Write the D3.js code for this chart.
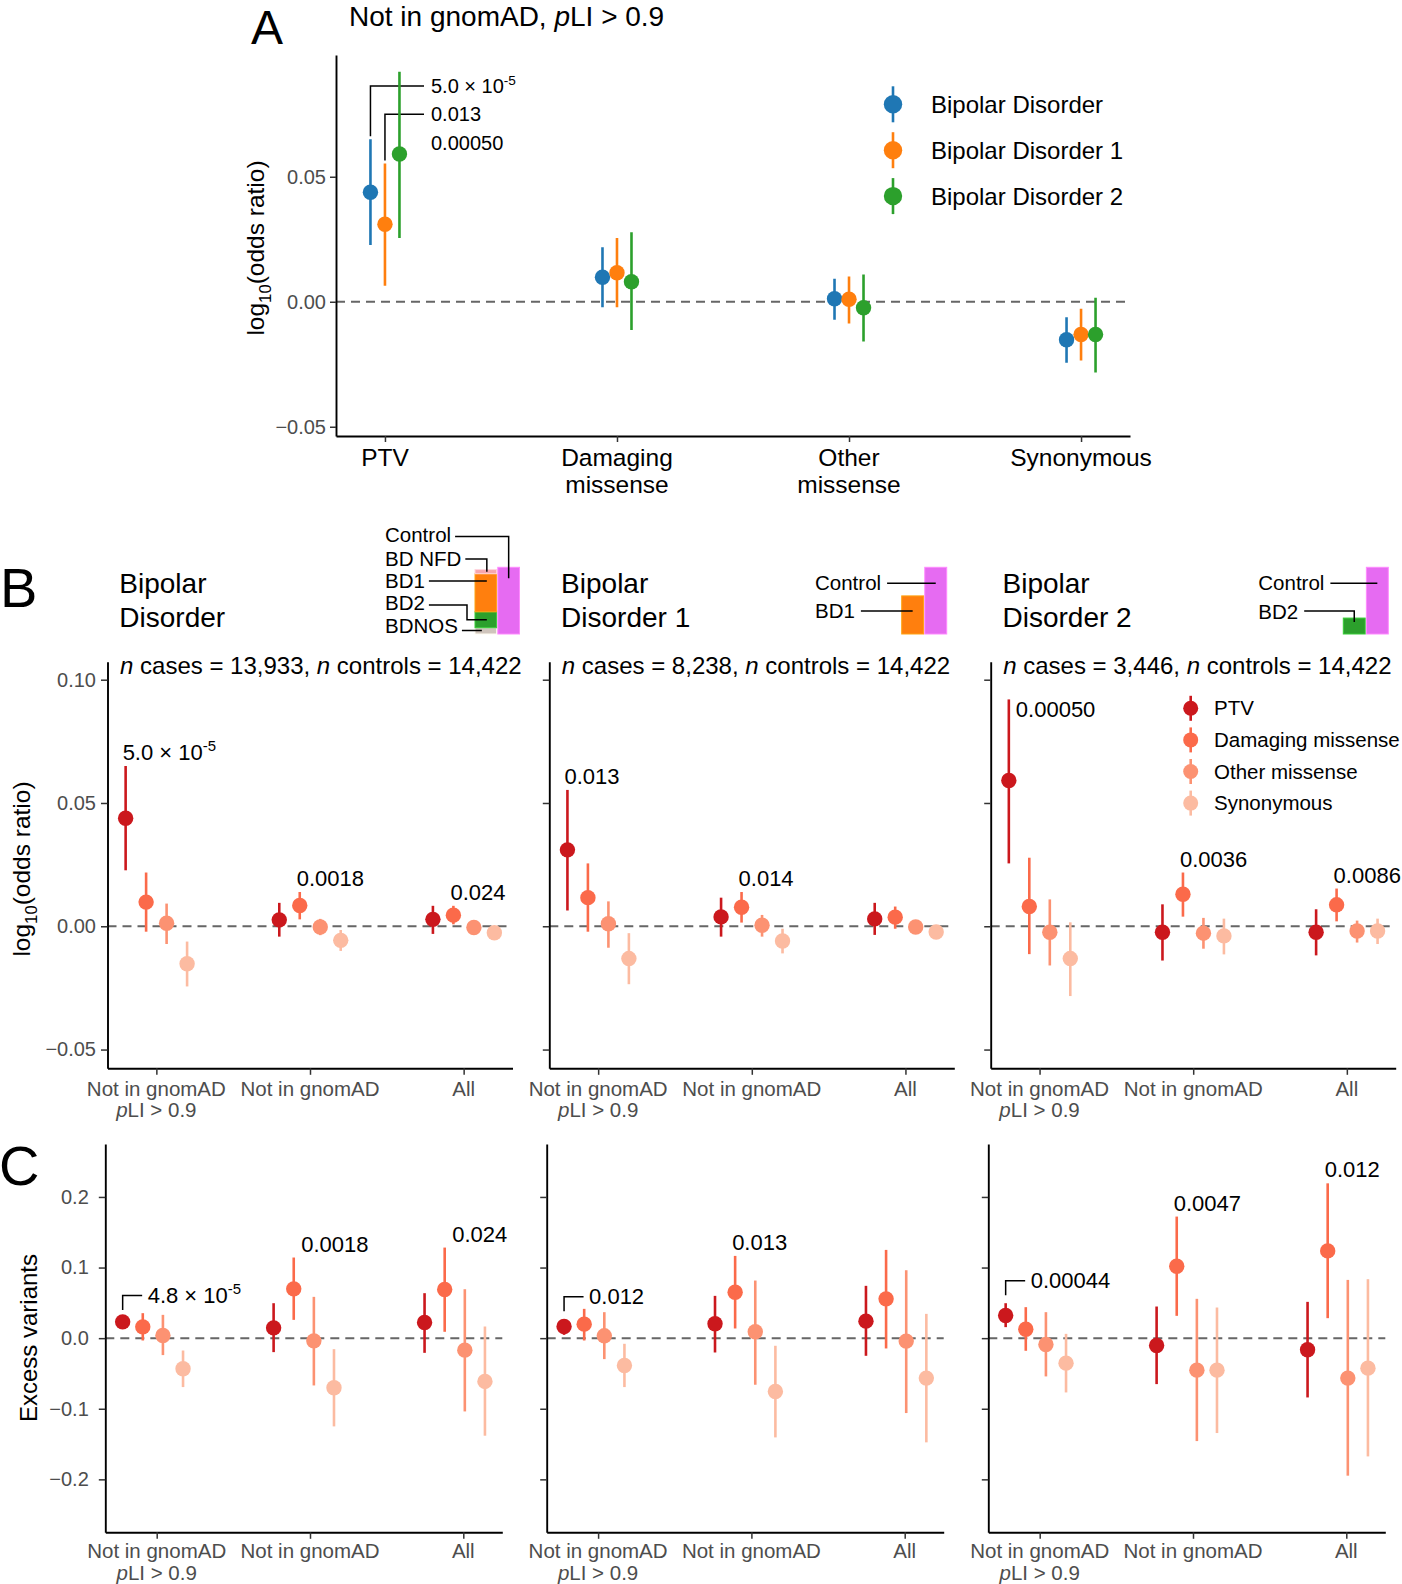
<!DOCTYPE html>
<html><head><meta charset="utf-8">
<script src="https://cdn.jsdelivr.net/npm/d3@7"></script>
<style>
body{margin:0;background:#fff}
svg{display:block}
text{font-family:"Liberation Sans",Arial,Helvetica,sans-serif}
</style></head>
<body><svg id="chart" width="1402" height="1584"></svg>
<script>
// ================= DATA =================
// Panel A: Not in gnomAD, pLI > 0.9
const categoriesA = ["PTV", "Damaging missense", "Other missense", "Synonymous"];
const categoryLinesA = [["PTV"], ["Damaging", "missense"], ["Other", "missense"], ["Synonymous"]];
const phenotypes = ["Bipolar Disorder", "Bipolar Disorder 1", "Bipolar Disorder 2"];
const estA_BD  = [0.0438, 0.0098, 0.0012, -0.0152];
const loA_BD   = [0.0227, -0.0022, -0.0072, -0.0244];
const hiA_BD   = [0.0650, 0.0218, 0.0092, -0.0062];
const estA_BD1 = [0.0310, 0.0116, 0.0010, -0.0131];
const loA_BD1  = [0.0064, -0.0022, -0.0087, -0.0235];
const hiA_BD1  = [0.0553, 0.0255, 0.0101, -0.0028];
const estA_BD2 = [0.0591, 0.0080, -0.0024, -0.0131];
const loA_BD2  = [0.0255, -0.0113, -0.0159, -0.0283];
const hiA_BD2  = [0.0920, 0.0278, 0.0109, 0.0016];
const pLabelsA = ["5.0 × 10^{-5}", "0.013", "0.00050"];
const yTicksA = [-0.05, 0, 0.05];

// Panels B and C
const variantClasses = ["PTV", "Damaging missense", "Other missense", "Synonymous"];
const geneSets = ["Not in gnomAD|*p*LI > 0.9", "Not in gnomAD", "All"];
const panelTitles = [["Bipolar", "Disorder"], ["Bipolar", "Disorder 1"], ["Bipolar", "Disorder 2"]];
const nCases = ["13,933", "8,238", "3,446"];
const nControls = ["14,422", "14,422", "14,422"];
const yTicksB = [-0.05, 0, 0.05, 0.10];
const yTicksC = [-0.2, -0.1, 0, 0.1, 0.2];

// B: log10(odds ratio); 12 values each = 3 gene sets x 4 variant classes
const estB_BD  = [0.0438, 0.0098, 0.0012, -0.0152, 0.0026, 0.0084, -0.0003, -0.0057, 0.0028, 0.0045, -0.0005, -0.0026];
const loB_BD   = [0.0227, -0.0022, -0.0072, -0.0244, -0.0042, 0.0028, -0.0036, -0.0100, -0.0031, 0.0008, -0.0023, -0.0045];
const hiB_BD   = [0.0650, 0.0218, 0.0092, -0.0062, 0.0095, 0.0139, 0.0030, -0.0015, 0.0083, 0.0083, 0.0012, -0.0010];
const estB_BD1 = [0.0310, 0.0116, 0.0010, -0.0131, 0.0038, 0.0077, 0.0004, -0.0060, 0.0030, 0.0037, -0.0003, -0.0023];
const loB_BD1  = [0.0064, -0.0022, -0.0087, -0.0235, -0.0042, 0.0015, -0.0042, -0.0110, -0.0035, -0.0010, -0.0020, -0.0050];
const hiB_BD1  = [0.0553, 0.0255, 0.0101, -0.0028, 0.0116, 0.0139, 0.0046, -0.0010, 0.0095, 0.0080, 0.0015, 0.0001];
const estB_BD2 = [0.0591, 0.0080, -0.0024, -0.0131, -0.0024, 0.0130, -0.0028, -0.0039, -0.0024, 0.0087, -0.0019, -0.0019];
const loB_BD2  = [0.0255, -0.0113, -0.0159, -0.0283, -0.0139, 0.0039, -0.0091, -0.0114, -0.0118, 0.0020, -0.0066, -0.0072];
const hiB_BD2  = [0.0920, 0.0278, 0.0109, 0.0016, 0.0089, 0.0218, 0.0034, 0.0031, 0.0069, 0.0153, 0.0023, 0.0031];
// annotations: [point index, label]
const annB_BD  = [[0, "5.0 × 10^{-5}"], [5, "0.0018"], [9, "0.024"]];
const annB_BD1 = [[0, "0.013"], [5, "0.014"]];
const annB_BD2 = [[0, "0.00050"], [5, "0.0036"], [9, "0.0086"]];

// C: excess variants
const estC_BD  = [0.0231, 0.0160, 0.0038, -0.0434, 0.0146, 0.0698, -0.0038, -0.0703, 0.0222, 0.0689, -0.0170, -0.0613];
const loC_BD   = [0.0175, -0.0033, -0.0240, -0.0693, -0.0198, 0.0259, -0.0670, -0.1250, -0.0208, 0.0090, -0.1038, -0.1382];
const hiC_BD   = [0.0287, 0.0354, 0.0330, -0.0175, 0.0495, 0.1142, 0.0585, -0.0156, 0.0637, 0.1283, 0.0693, 0.0165];
const estC_BD1 = [0.0165, 0.0198, 0.0033, -0.0387, 0.0203, 0.0651, 0.0090, -0.0755, 0.0241, 0.0557, -0.0042, -0.0566];
const loC_BD1  = [0.0047, -0.0033, -0.0297, -0.0693, -0.0203, 0.0137, -0.0660, -0.1406, -0.0250, -0.0146, -0.1061, -0.1476];
const hiC_BD1  = [0.0269, 0.0415, 0.0368, -0.0080, 0.0599, 0.1165, 0.0816, -0.0108, 0.0741, 0.1250, 0.0962, 0.0344];
const estC_BD2 = [0.0321, 0.0127, -0.0090, -0.0354, -0.0104, 0.1019, -0.0453, -0.0453, -0.0165, 0.1236, -0.0566, -0.0425];
const loC_BD2  = [0.0156, -0.0179, -0.0542, -0.0769, -0.0651, 0.0316, -0.1458, -0.1344, -0.0840, 0.0283, -0.1948, -0.1675];
const hiC_BD2  = [0.0495, 0.0439, 0.0368, 0.0061, 0.0448, 0.1722, 0.0557, 0.0434, 0.0514, 0.2193, 0.0825, 0.0835];
const annC_BD  = [[0, "4.8 × 10^{-5}"], [5, "0.0018"], [9, "0.024"]];
const annC_BD1 = [[0, "0.012"], [5, "0.013"]];
const annC_BD2 = [[0, "0.00044"], [5, "0.0047"], [9, "0.012"]];

// Sample-size insets
const insetLabels1 = ["Control", "BD NFD", "BD1", "BD2", "BDNOS"];
const caseSegments1 = ["BDNOS", "BD2", "BD1", "BD NFD"];
const caseCounts1 = [1349, 3446, 8238, 900];
const controlCount = 14422;
const caseCountBD1 = 8238;
const caseCountBD2 = 3446;

// ================= STYLE / LAYOUT =================
const svg = d3.select("#chart");
const colA = ["#1f77b4", "#ff7f0e", "#2ca02c"];
const colClass = ["#cb181d", "#fb6a4a", "#fc9272", "#fcbba1"];
const segColor = {"Control": "#e66bf2", "BD NFD": "#f7a6ae", "BD1": "#ff7f0e", "BD2": "#2ca02c", "BDNOS": "#cfc4bc"};
const TICK_GRAY = "#4d4d4d";

function rich(textSel, str, size) {
  const re = /\*([^*]+)\*|\^\{([^}]+)\}|_\{([^}]+)\}/g;
  let last = 0, m, pending = 0;
  const add = (t, extra) => {
    const ts = textSel.append("tspan").text(t);
    let dy = pending; pending = 0;
    if (extra && extra.dy) { dy += extra.dy; pending = -extra.dy; }
    if (dy) ts.attr("dy", dy);
    if (extra && extra.italic) ts.attr("font-style", "italic");
    if (extra && extra.small) ts.attr("font-size", size * 0.68);
    return ts;
  };
  while ((m = re.exec(str))) {
    if (m.index > last) add(str.slice(last, m.index));
    if (m[1]) add(m[1], {italic: true});
    else if (m[2]) add(m[2], {dy: -0.42 * size, small: true});
    else if (m[3]) add(m[3], {dy: 0.28 * size, small: true});
    last = re.lastIndex;
  }
  if (last < str.length) add(str.slice(last));
  return textSel;
}
function txt(x, y, str, size, opts = {}) {
  const t = svg.append("text").attr("x", x).attr("y", y).attr("font-size", size)
    .attr("fill", opts.fill || "#000").attr("text-anchor", opts.anchor || "start");
  if (opts.rotate) t.attr("transform", `rotate(-90,${x},${y})`);
  return rich(t, str, size);
}
function styleAxis(g) {
  g.select(".domain").attr("stroke", "#000").attr("stroke-width", 1.9);
  g.selectAll(".tick line").attr("stroke", "#333").attr("stroke-width", 1.5);
  g.selectAll(".tick text").attr("fill", TICK_GRAY).attr("font-size", 20)
    .attr("font-family", '"Liberation Sans",Arial,Helvetica,sans-serif');
}
const fmtTick = d => (d < 0 ? "\u2212" : "") + Math.abs(d).toFixed(2);

// ================= PANEL LETTERS =================
txt(251, 44, "A", 48);
txt(0, 607, "B", 56);
txt(-1, 1185, "C", 56);

// ================= PANEL A =================
{
  const L = 336, R = 1130, T = 55, B = 436;
  const x = d3.scaleLinear().domain([-0.211, 3.211]).range([L, R]);
  const y = d3.scaleLinear().domain([-0.0537, 0.0987]).range([B, T]);
  const dodge = [-0.0625, 0, 0.0625];
  txt(349, 26, "Not in gnomAD, *p*LI > 0.9", 28);
  svg.append("line").attr("x1", L).attr("x2", R).attr("y1", y(0)).attr("y2", y(0))
    .attr("stroke", "#666").attr("stroke-width", 2).attr("stroke-dasharray", "9,6");
  const gy = svg.append("g").attr("transform", `translate(${L},0)`)
    .call(d3.axisLeft(y).tickValues(yTicksA).tickFormat(fmtTick).tickSize(6).tickPadding(4).tickSizeOuter(0));
  styleAxis(gy);
  const gx = svg.append("g").attr("transform", `translate(0,${B})`)
    .call(d3.axisBottom(x).tickValues([0, 1, 2, 3]).tickFormat("").tickSize(6).tickSizeOuter(0));
  styleAxis(gx);
  categoryLinesA.forEach((lines, i) => lines.forEach((s, j) =>
    txt(x(i), 466 + j * 27, s, 24.5, {anchor: "middle"})));
  txt(264, 248, "log_{10}(odds ratio)", 24.5, {anchor: "middle", rotate: true});

  const est = [estA_BD, estA_BD1, estA_BD2], lo = [loA_BD, loA_BD1, loA_BD2], hi = [hiA_BD, hiA_BD1, hiA_BD2];
  const labY0 = 86, labStep = 28.3, labX = 431;
  phenotypes.forEach((p, k) => {
    const yy = labY0 + k * labStep;
    if (k < 2) {
      const px = x(0 + dodge[k]);
      svg.append("path").attr("d", `M${px},${y(hi[k][0]) - 3}V${yy}H${labX - 7}`)
        .attr("fill", "none").attr("stroke", "#000").attr("stroke-width", 1.5);
    }
    txt(labX, yy + 7, pLabelsA[k], 20);
  });
  phenotypes.forEach((p, k) => {
    categoriesA.forEach((c, i) => {
      const px = x(i + dodge[k]);
      svg.append("line").attr("x1", px).attr("x2", px).attr("y1", y(lo[k][i])).attr("y2", y(hi[k][i]))
        .attr("stroke", colA[k]).attr("stroke-width", 2.6);
      svg.append("circle").attr("cx", px).attr("cy", y(est[k][i])).attr("r", 7.7).attr("fill", colA[k]);
    });
  });
  const legY = [104.3, 150.2, 196.1];
  phenotypes.forEach((p, k) => {
    svg.append("line").attr("x1", 893).attr("x2", 893).attr("y1", legY[k] - 18).attr("y2", legY[k] + 18)
      .attr("stroke", colA[k]).attr("stroke-width", 2.6);
    svg.append("circle").attr("cx", 893).attr("cy", legY[k]).attr("r", 9.2).attr("fill", colA[k]);
    txt(931, legY[k] + 8.6, p, 24);
  });
}

// ================= PANELS B & C =================
const classDodge = [-0.2, -0.0667, 0.0667, 0.2];
const bPanelsX = [107.5, 549.3, 990.7];
const cPanelsX = [105.3, 546.7, 988.3];
const estB = [estB_BD, estB_BD1, estB_BD2], loB = [loB_BD, loB_BD1, loB_BD2], hiB = [hiB_BD, hiB_BD1, hiB_BD2];
const estC = [estC_BD, estC_BD1, estC_BD2], loC = [loC_BD, loC_BD1, loC_BD2], hiC = [hiC_BD, hiC_BD1, hiC_BD2];
const annB = [annB_BD, annB_BD1, annB_BD2], annC = [annC_BD, annC_BD1, annC_BD2];

function drawPanel(opt) {
  const {L, W, B, x, xt, y, yTicks, labels, est, lo, hi, lblBase, fmt, pad} = opt;
  svg.append("line").attr("x1", L).attr("x2", L + W).attr("y1", y(0)).attr("y2", y(0))
    .attr("stroke", "#666").attr("stroke-width", 2).attr("stroke-dasharray", "9,6");
  const gy = svg.append("g").attr("transform", `translate(${L},0)`)
    .call(d3.axisLeft(y).tickValues(yTicks).tickFormat(labels ? fmt : "").tickSize(6.5).tickPadding(pad).tickSizeOuter(0));
  styleAxis(gy);
  const gx = svg.append("g").attr("transform", `translate(${L},${B})`)
    .call(d3.axisBottom(xt).tickValues([0, 1, 2]).tickFormat("").tickSize(6.5).tickSizeOuter(0));
  styleAxis(gx);
  geneSets.forEach((g, i) => g.split("|").forEach((s, j) =>
    txt(L + xt(i), lblBase + j * 21.5, s, 20.5, {anchor: "middle", fill: TICK_GRAY})));
  const pts = [];
  geneSets.forEach((g, gi) => variantClasses.forEach((c, ci) => {
    const idx = gi * 4 + ci;
    const px = L + x(gi + classDodge[ci]);
    pts.push({px, idx});
    svg.append("line").attr("x1", px).attr("x2", px).attr("y1", y(lo[idx])).attr("y2", y(hi[idx]))
      .attr("stroke", colClass[ci]).attr("stroke-width", 2.6);
    svg.append("circle").attr("cx", px).attr("cy", y(est[idx])).attr("r", 7.7).attr("fill", colClass[ci]);
  }));
  return pts;
}

const yB = d3.scaleLinear().domain([-0.0576, 0.1073]).range([1068.3, 661.7]);
const xB = d3.scaleLinear().domain([-0.318, 2.318]).range([0, 405]);
const yC = d3.scaleLinear().domain([-0.275, 0.275]).range([1532.3, 1144]);
const xC = d3.scaleLinear().domain([-0.315, 2.315]).range([0, 397]);
const xCt = d3.scaleLinear().domain([-0.3353, 2.2544]).range([0, 397]);
const fmtB = d => (d < 0 ? "\u2212" : "") + Math.abs(d).toFixed(2);
const fmtC = d => (d < 0 ? "\u2212" : "") + Math.abs(d).toFixed(1);

phenotypes.forEach((p, k) => {
  const L = bPanelsX[k];
  const pts = drawPanel({L, W: 405, B: 1068.3, x: xB, xt: xB, y: yB, yTicks: yTicksB,
    labels: k === 0, est: estB[k], lo: loB[k], hi: hiB[k], lblBase: 1095.5, fmt: fmtB, pad: 5});
  txt(L + 12.5, 674, `*n* cases = ${nCases[k]}, *n* controls = ${nControls[k]}`, 24);
  txt(L + 11.8, 593, panelTitles[k][0], 28);
  txt(L + 11.8, 627, panelTitles[k][1], 28);
  annB[k].forEach(([idx, label]) => {
    const pt = pts.find(d => d.idx === idx);
    if (k === 2 && idx === 0) txt(pt.px + 7, yB(hiB[k][idx]) + 18, label, 22);
    else txt(pt.px - 3, yB(hiB[k][idx]) - 6, label, 22);
  });
  const Lc = cPanelsX[k];
  const ptsC = drawPanel({L: Lc, W: 397, B: 1532.3, x: xC, xt: xCt, y: yC, yTicks: yTicksC,
    labels: k === 0, est: estC[k], lo: loC[k], hi: hiC[k], lblBase: 1558.3, fmt: fmtC, pad: 10});
  annC[k].forEach(([idx, label]) => {
    const pt = ptsC.find(d => d.idx === idx);
    const top = yC(hiC[k][idx]);
    if (idx === 0) {
      const yb = top - 8, yt = yb - 14.5;
      svg.append("path").attr("d", `M${pt.px},${yb}V${yt}H${pt.px + 19.5}`)
        .attr("fill", "none").attr("stroke", "#000").attr("stroke-width", 1.5);
      txt(pt.px + 25, yt + 7.5, label, 22);
    } else {
      txt(pt.px + (k === 0 ? 7.5 : -3), top - 6, label, 22);
    }
  });
});
txt(30, 869, "log_{10}(odds ratio)", 24.5, {anchor: "middle", rotate: true});
txt(36.5, 1338, "Excess variants", 24, {anchor: "middle", rotate: true});

// B legend
{
  const legY = [708.3, 739.9, 771.5, 803.1];
  variantClasses.forEach((c, i) => {
    svg.append("line").attr("x1", 1190.7).attr("x2", 1190.7).attr("y1", legY[i] - 12.5).attr("y2", legY[i] + 12.5)
      .attr("stroke", colClass[i]).attr("stroke-width", 2.6);
    svg.append("circle").attr("cx", 1190.7).attr("cy", legY[i]).attr("r", 7.5).attr("fill", colClass[i]);
    txt(1214, legY[i] + 7, c, 20.5);
  });
}

// ================= SAMPLE SIZE INSETS =================
const yBar = d3.scaleLinear().domain([0, controlCount]).range([634, 567.3]);
function bar(x0, w, v0, v1, color) {
  svg.append("rect").attr("x", x0).attr("width", w).attr("y", yBar(v1)).attr("height", yBar(v0) - yBar(v1))
    .attr("fill", color).attr("stroke", d3.color(color).brighter(0.7)).attr("stroke-width", 1);
}
function lead(d) {
  svg.append("path").attr("d", d).attr("fill", "none").attr("stroke", "#000").attr("stroke-width", 1.5);
}
function label(x, cy, s) {
  const t = txt(x, cy + 7.3, s, 20.5);
  return x + t.node().getComputedTextLength();
}
{
  const bx = d3.scaleBand().domain(["cases", "control"]).range([475, 519.5]).paddingInner(0.05);
  let acc = 0;
  const seg = {};
  caseSegments1.forEach((s, i) => {
    bar(bx("cases"), bx.bandwidth(), acc, acc + caseCounts1[i], segColor[s]);
    seg[s] = [acc, acc + caseCounts1[i]];
    acc += caseCounts1[i];
  });
  bar(bx("control"), bx.bandwidth(), 0, controlCount, segColor["Control"]);
  const cx = bx("cases") + bx.bandwidth() / 2, kx = bx("control") + bx.bandwidth() / 2;
  const mid = s => yBar((seg[s][0] + seg[s][1]) / 2);
  const ly = [535, 559, 581, 603, 626];
  const e = insetLabels1.map((s, i) => label(385, ly[i], s) + 4);
  lead(`M${e[0]},${ly[0] + 1.5}H${kx}V${yBar(controlCount) + 11}`);
  lead(`M${e[1]},${ly[1]}H${cx + 1}V${mid("BD NFD")}`);
  lead(`M${e[2]},${ly[2]}H${cx + 1}`);
  lead(`M${e[3]},${ly[3] + 2}H${467}V${mid("BD2")}H${cx + 1}`);
  lead(`M${e[4]},${ly[4] + 4.5}H${cx - 4}`);
}
{
  const bx = d3.scaleBand().domain(["cases", "control"]).range([901.7, 946.7]).paddingInner(0.05);
  bar(bx("cases"), bx.bandwidth(), 0, caseCountBD1, segColor["BD1"]);
  bar(bx("control"), bx.bandwidth(), 0, controlCount, segColor["Control"]);
  const e0 = label(815, 582.7, "Control") + 6, e1 = label(815, 610.7, "BD1") + 6;
  lead(`M${e0},583.3H${bx("control") + bx.bandwidth() / 2}`);
  lead(`M${e1},611H${bx("cases") + bx.bandwidth() / 2}`);
}
{
  const bx = d3.scaleBand().domain(["cases", "control"]).range([1343.3, 1388.3]).paddingInner(0.05);
  bar(bx("cases"), bx.bandwidth(), 0, caseCountBD2, segColor["BD2"]);
  bar(bx("control"), bx.bandwidth(), 0, controlCount, segColor["Control"]);
  const e0 = label(1258.3, 582.7, "Control") + 6, e1 = label(1258.3, 611.2, "BD2") + 6;
  lead(`M${e0},583.3H${bx("control") + bx.bandwidth() / 2}`);
  const cxx = bx("cases") + bx.bandwidth() / 2;
  lead(`M${e1},611H${cxx}V${yBar(caseCountBD2 / 2) - 4}`);
}
</script></body></html>
